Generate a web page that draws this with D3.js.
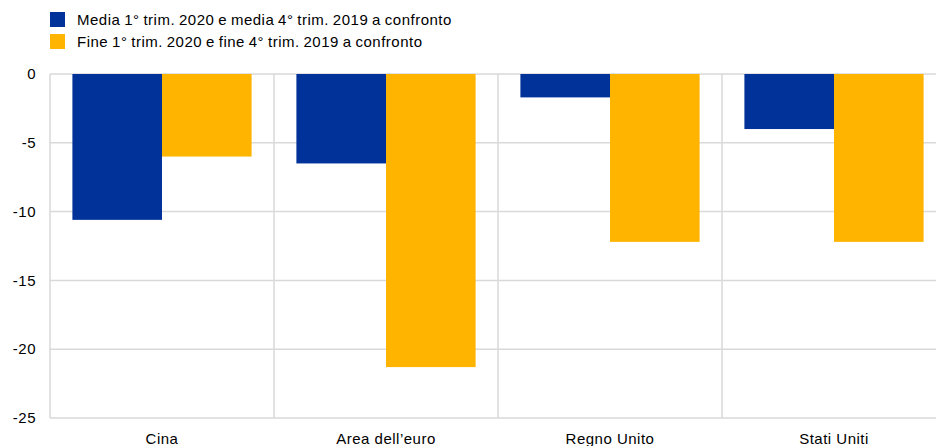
<!DOCTYPE html>
<html lang="en">
  <head>
    <meta charset="utf-8" />
    <script src="https://d3js.org/d3.v7.min.js"></script>
    <style>
      body { margin: 0; background: #fff; }
      svg text { font-family: 'Liberation Sans', Arial, sans-serif; fill: #000; font-size: 15px; letter-spacing: 0.5px; }
      svg .legend text { word-spacing: -0.8px; }
    </style>
  </head>
  <body>
    <svg id="chart" width="936" height="446"></svg>
    <script>
      // data
      const categories = ['Cina', 'Area dell\u2019euro', 'Regno Unito', 'Stati Uniti'];
      const seriesNames = [
        'Media 1\u00b0 trim. 2020 e media 4\u00b0 trim. 2019 a confronto',
        'Fine 1\u00b0 trim. 2020 e fine 4\u00b0 trim. 2019 a confronto',
      ];
      const mediaValues = [-10.6, -6.5, -1.7, -4.0];
      const fineValues = [-6.0, -21.3, -12.2, -12.2];
      const yTicks = [0, -5, -10, -15, -20, -25];
      const colors = ['#003299', '#ffb400'];

      const svg = d3.select('#chart');
      const plotLeft = 50, plotRight = 946, plotTop = 74, plotBottom = 418;

      const x = d3.scaleBand().domain(categories).range([plotLeft, plotRight]).padding(0);
      const xInner = d3.scaleBand().domain([0, 1]).range([0, x.bandwidth()]).paddingInner(0).paddingOuter(0.25);
      const y = d3.scaleLinear().domain([0, -25]).range([plotTop, plotBottom]);

      // grid
      svg.append('g')
        .selectAll('line')
        .data(yTicks)
        .join('line')
        .attr('x1', plotLeft).attr('x2', 936)
        .attr('y1', d => y(d)).attr('y2', d => y(d))
        .attr('stroke', '#d9d9d9').attr('stroke-width', 1.5);

      const vlines = categories.map(c => x(c));
      svg.append('g')
        .selectAll('line')
        .data(vlines)
        .join('line')
        .attr('x1', d => d).attr('x2', d => d)
        .attr('y1', plotTop).attr('y2', plotBottom)
        .attr('stroke', '#d9d9d9').attr('stroke-width', 1.5);

      // bars
      const rows = categories.map((c, i) => ({ c, vals: [mediaValues[i], fineValues[i]] }));
      const groups = svg.append('g')
        .selectAll('g')
        .data(rows)
        .join('g')
        .attr('transform', d => `translate(${x(d.c)},0)`);
      groups.selectAll('rect')
        .data(d => d.vals.map((v, k) => ({ v, k })))
        .join('rect')
        .attr('x', d => xInner(d.k))
        .attr('width', xInner.bandwidth())
        .attr('y', y(0))
        .attr('height', d => y(d.v) - y(0))
        .attr('fill', d => colors[d.k]);

      // y labels
      svg.append('g')
        .selectAll('text')
        .data(yTicks)
        .join('text')
        .attr('x', 36)
        .attr('y', d => y(d))
        .attr('dy', '0.35em')
        .attr('text-anchor', 'end')
        .text(d => d === 0 ? '0' : '-' + Math.abs(d));

      // x labels
      svg.append('g')
        .selectAll('text')
        .data(categories)
        .join('text')
        .attr('x', d => x(d) + x.bandwidth() / 2)
        .attr('y', 444)
        .attr('text-anchor', 'middle')
        .text(d => d);

      // legend
      const legend = svg.append('g')
        .attr('class', 'legend')
        .selectAll('g')
        .data(seriesNames)
        .join('g')
        .attr('transform', (d, i) => `translate(50,${12 + i * 22})`);
      legend.append('rect')
        .attr('width', 15).attr('height', 15)
        .attr('fill', (d, i) => colors[i]);
      legend.append('text')
        .attr('x', 27).attr('y', 13)
        .text(d => d);
    </script>
  </body>
</html>
